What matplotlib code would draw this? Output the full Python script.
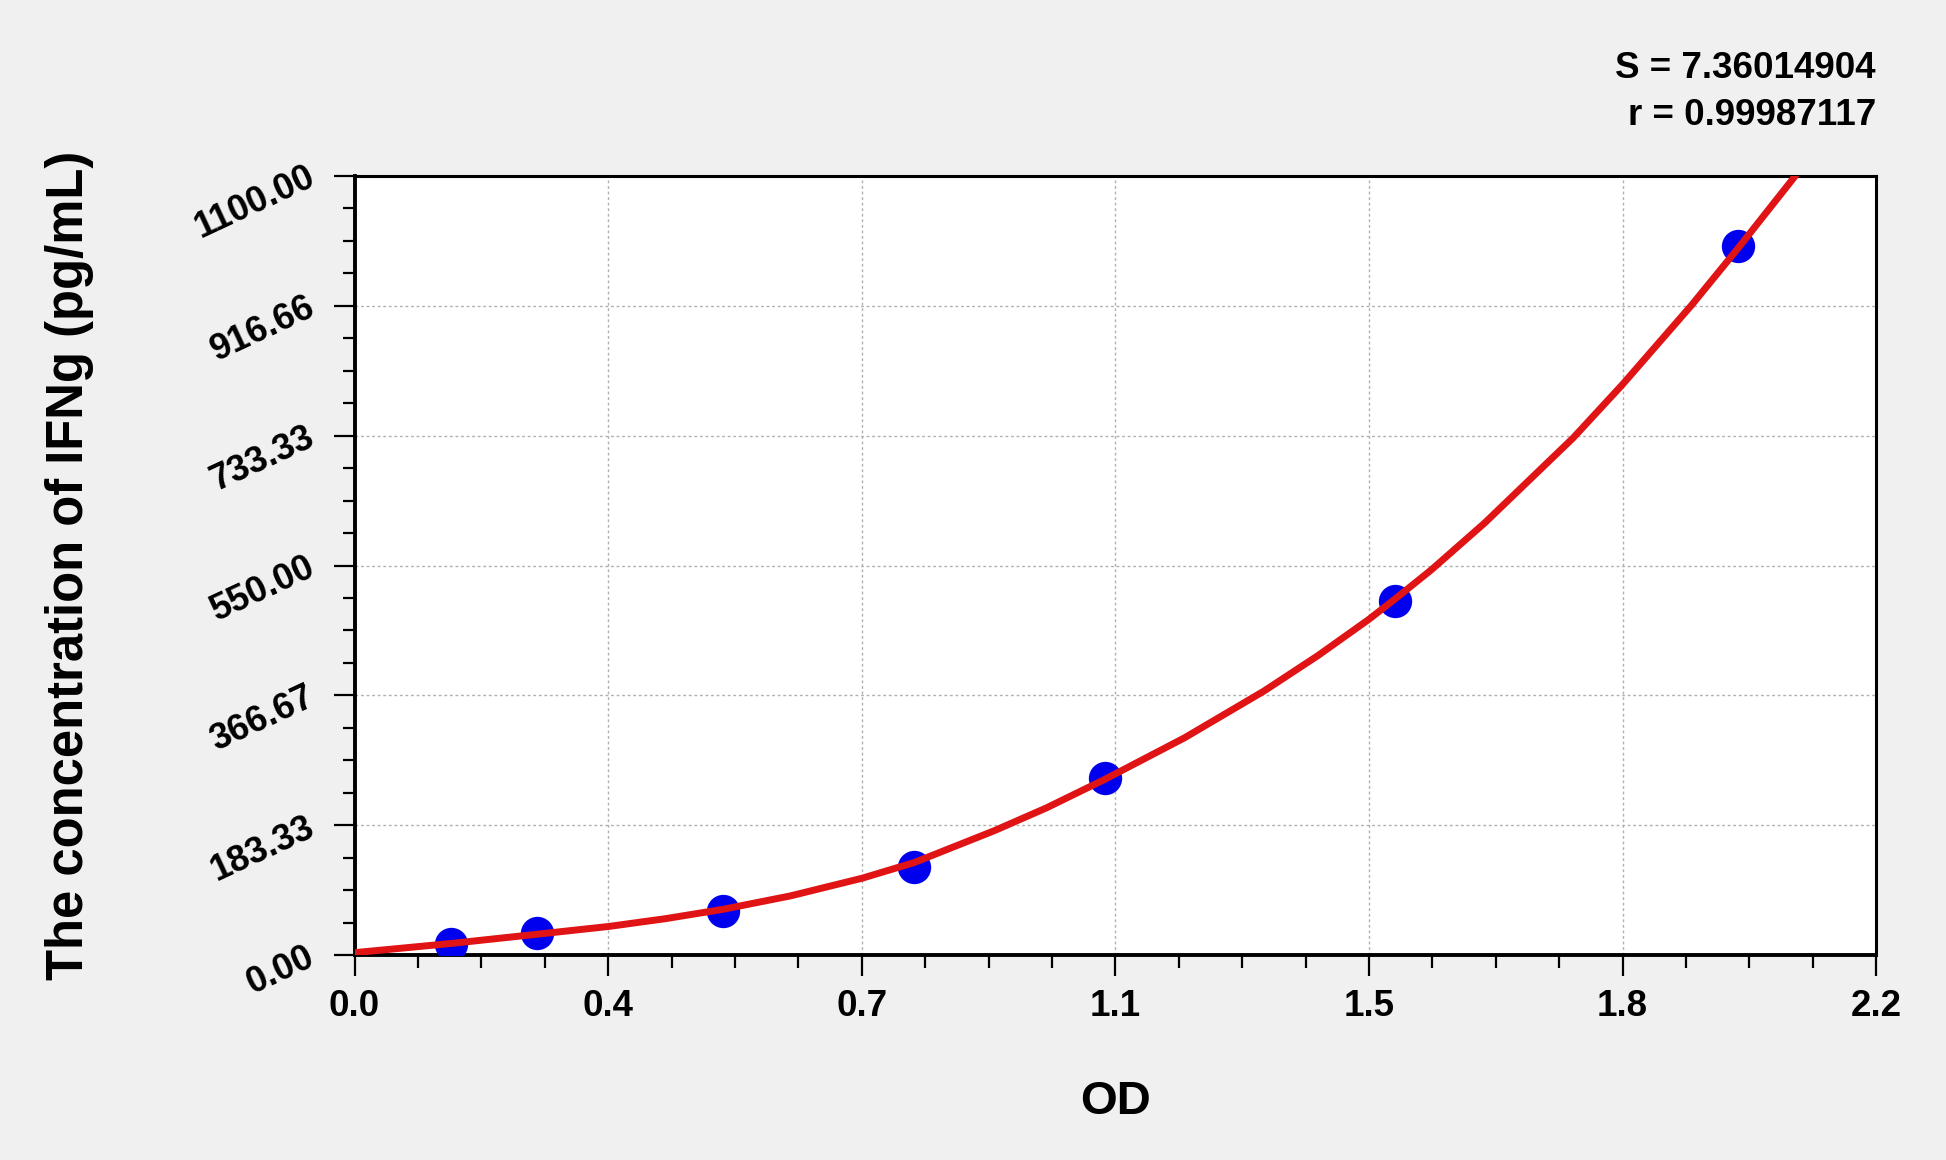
import matplotlib
matplotlib.use('Agg')
import matplotlib.pyplot as plt
from matplotlib.ticker import AutoMinorLocator

plt.rcParams['font.family'] = ['Liberation Sans', 'DejaVu Sans']
plt.rcParams['font.weight'] = 'bold'

# Standard points (OD, concentration)
od_values = [0.140, 0.264, 0.532, 0.809, 1.085, 1.505, 2.000]
conc_values = [15.6, 31.25, 62.5, 125.0, 250.0, 500.0, 1000.0]

# Fitted curve
curve_od = [0.0, 0.14, 0.264, 0.368, 0.45, 0.532, 0.63, 0.734, 0.809, 0.925,
            1.0, 1.084, 1.2, 1.315, 1.393, 1.4665, 1.506, 1.557, 1.634,
            1.762, 1.833, 1.933, 2.0, 2.0835]
curve_conc = [4, 17, 30, 41, 52, 65, 84, 109, 131, 176,
              208, 248, 307, 373, 423, 474, 504, 544, 610,
              730, 805, 917, 997, 1100]

x_ticks = [0.0, 2.2 / 6, 4.4 / 6, 1.1, 8.8 / 6, 11.0 / 6, 2.2]
x_labels = ['0.0', '0.4', '0.7', '1.1', '1.5', '1.8', '2.2']
y_ticks = [0.0, 1100 / 6, 2200 / 6, 550.0, 4400 / 6, 5500 / 6, 1100.0]
y_labels = ['0.00', '183.33', '366.67', '550.00', '733.33', '916.66', '1100.00']

stat_s = 'S = 7.36014904'
stat_r = 'r = 0.99987117'

fig = plt.figure(figsize=(19.46, 11.6), dpi=100, facecolor='#f0f0f0')
ax = fig.add_axes([0.1822, 0.1763, 0.7819, 0.6724])
ax.set_facecolor('white')

ax.plot(od_values, conc_values, 'o', color='#0000ee', markersize=24,
        markeredgewidth=0, zorder=3)
ax.plot(curve_od, curve_conc, color='#e01414', linewidth=5,
        solid_capstyle='round', solid_joinstyle='round', zorder=4)

ax.set_xlim(0, 2.2)
ax.set_ylim(0, 1100)

ax.set_xticks(x_ticks)
ax.set_xticklabels(x_labels, fontsize=26.5, fontweight='bold')
ax.set_yticks(y_ticks)
ax.set_yticklabels(y_labels, fontsize=26, fontweight='bold',
                   rotation=25, ha='right', va='center', rotation_mode='anchor')
ax.xaxis.set_minor_locator(AutoMinorLocator(4))
ax.yaxis.set_minor_locator(AutoMinorLocator(4))

ax.tick_params(axis='both', which='major', direction='out', length=15,
               width=1.6, color='black')
ax.tick_params(axis='both', which='minor', direction='out', length=9,
               width=1.6, color='black')
ax.tick_params(axis='x', which='major', pad=9)
ax.tick_params(axis='y', which='major', pad=15)

for side, spine in ax.spines.items():
    spine.set_color('black')
    spine.set_linewidth(2.8 if side in ('left', 'bottom') else 2.2)

ax.grid(True, which='major', color='#b0b0b0', linestyle=(0, (2, 2)),
        linewidth=1.0)
ax.set_axisbelow(True)

ax.set_xlabel('OD', fontsize=34, fontweight='bold', va='top')
ax.xaxis.set_label_coords(0.5, -0.16)
ax.set_ylabel('The concentration of IFNg (pg/mL)', fontsize=36.5,
              fontweight='bold')
ax.yaxis.set_label_coords(-0.171, 0.5)

fig.text(0.964, 1 - 78 / 1160, stat_s, ha='right', va='baseline',
         fontsize=26.5, fontweight='bold')
fig.text(0.964, 1 - 125 / 1160, stat_r, ha='right', va='baseline',
         fontsize=26.5, fontweight='bold')

fig.savefig('out.png', dpi=100, facecolor=fig.get_facecolor())
plt.close(fig)
